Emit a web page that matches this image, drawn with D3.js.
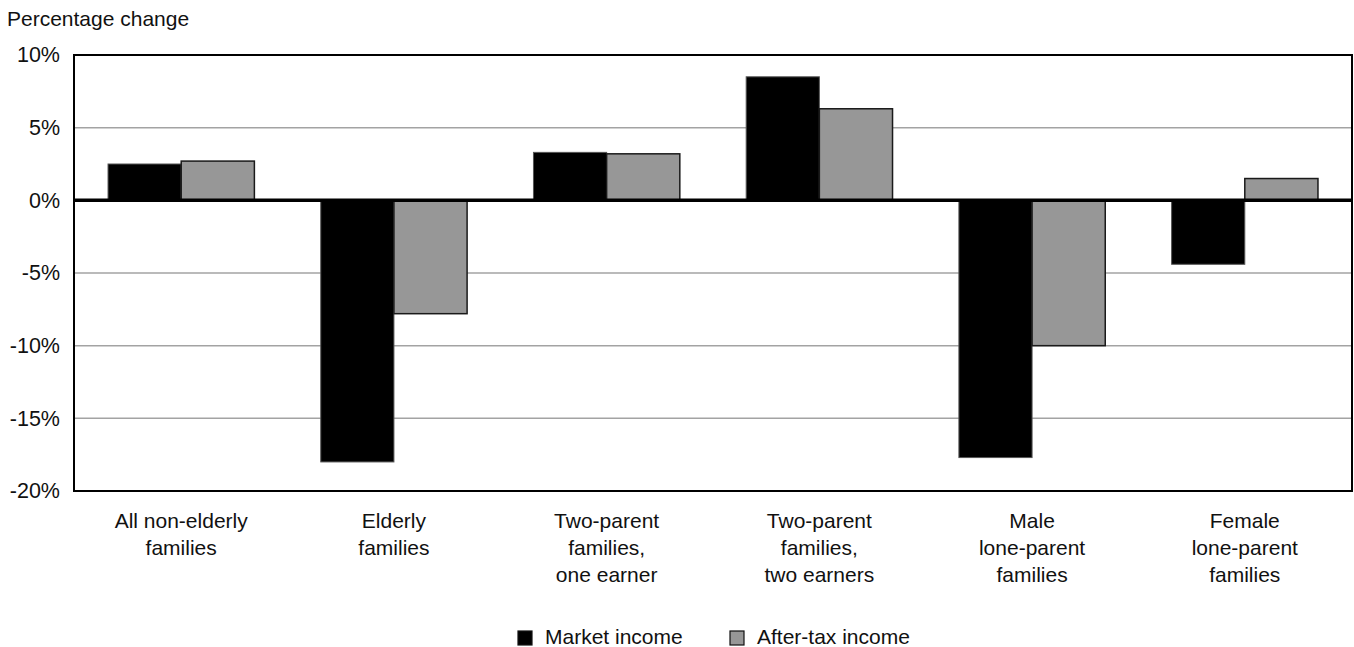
<!DOCTYPE html>
<html>
<head>
<meta charset="utf-8">
<script src="https://cdn.jsdelivr.net/npm/d3@7"></script>
<style>
  html, body { margin: 0; padding: 0; background: #fff; }
  svg { display: block; font-family: "Liberation Sans", Arial, Helvetica, sans-serif; }
</style>
</head>
<body>
<svg id="chart" width="1354" height="647"></svg>
<script>
// ---- data ----
const categories = [
  ["All non-elderly", "families"],
  ["Elderly", "families"],
  ["Two-parent", "families,", "one earner"],
  ["Two-parent", "families,", "two earners"],
  ["Male", "lone-parent", "families"],
  ["Female", "lone-parent", "families"]
];
const seriesNames = ["Market income", "After-tax income"];
const marketIncome = [2.5, -18.0, 3.3, 8.5, -17.7, -4.4];
const afterTaxIncome = [2.7, -7.8, 3.2, 6.3, -10.0, 1.5];
const yTicks = [10, 5, 0, -5, -10, -15, -20];
const yLabel = "Percentage change";
const seriesColors = ["#000000", "#979797"];

// ---- layout ----
const svg = d3.select("#chart");
const pLeft = 74, pRight = 1352, pTop = 55, pBottom = 491;

const x0 = d3.scaleBand()
  .domain(d3.range(categories.length))
  .range([pLeft, pRight])
  .paddingInner(0.312)
  .paddingOuter(0.16);
const x1 = d3.scaleBand()
  .domain(d3.range(seriesNames.length))
  .range([0, x0.bandwidth()]);
const y = d3.scaleLinear().domain([-20, 10]).range([pBottom, pTop]);

// gridlines
const yAxis = d3.axisLeft(y).tickValues(yTicks).tickSize(0).tickFormat(d => d + "%");
svg.append("g")
  .selectAll("line")
  .data(yTicks.filter(d => d !== 0 && d !== 10 && d !== -20))
  .join("line")
  .attr("x1", pLeft).attr("x2", pRight)
  .attr("y1", d => y(d)).attr("y2", d => y(d))
  .attr("stroke", "#a3a3a3").attr("stroke-width", 1.5);

// bars
const values = [marketIncome, afterTaxIncome];
const g = svg.append("g");
categories.forEach((c, i) => {
  values.forEach((vals, s) => {
    const v = vals[i];
    g.append("rect")
      .attr("x", x0(i) + x1(s))
      .attr("width", x1.bandwidth())
      .attr("y", Math.min(y(v), y(0)))
      .attr("height", Math.abs(y(v) - y(0)))
      .attr("fill", seriesColors[s])
      .attr("stroke", s === 0 ? "#555" : "#1a1a1a")
      .attr("stroke-width", s === 0 ? 1 : 1.5);
  });
});

// zero line
svg.append("line")
  .attr("x1", pLeft).attr("x2", pRight)
  .attr("y1", y(0)).attr("y2", y(0))
  .attr("stroke", "#000").attr("stroke-width", 3.5);

// border
svg.append("rect")
  .attr("x", pLeft).attr("y", pTop)
  .attr("width", pRight - pLeft).attr("height", pBottom - pTop)
  .attr("fill", "none").attr("stroke", "#000").attr("stroke-width", 2);

// y axis labels
const ya = svg.append("g").attr("transform", `translate(${pLeft - 14},0)`).call(yAxis);
ya.select(".domain").remove();
ya.selectAll("text")
  .attr("x", 0)
  .attr("font-size", 21.5)
  .attr("font-family", "Liberation Sans, Arial, sans-serif")
  .attr("fill", "#111");

// y label
svg.append("text")
  .attr("x", 7).attr("y", 26)
  .attr("font-size", 21)
  .attr("fill", "#111")
  .text(yLabel);

// category labels
categories.forEach((lines, i) => {
  const t = svg.append("text")
    .attr("text-anchor", "middle")
    .attr("font-size", 21)
    .attr("fill", "#111");
  lines.forEach((ln, k) => {
    t.append("tspan")
      .attr("x", x0(i) + x0.bandwidth() / 2)
      .attr("y", 528 + k * 27)
      .text(ln);
  });
});

// legend
const legendX = [518, 730];
seriesNames.forEach((name, s) => {
  svg.append("rect")
    .attr("x", legendX[s]).attr("y", 631)
    .attr("width", 14).attr("height", 14)
    .attr("fill", seriesColors[s])
    .attr("stroke", "#111").attr("stroke-width", 1.2);
  svg.append("text")
    .attr("x", legendX[s] + 27).attr("y", 644)
    .attr("font-size", 21)
    .attr("fill", "#111")
    .text(name);
});
</script>
</body>
</html>
